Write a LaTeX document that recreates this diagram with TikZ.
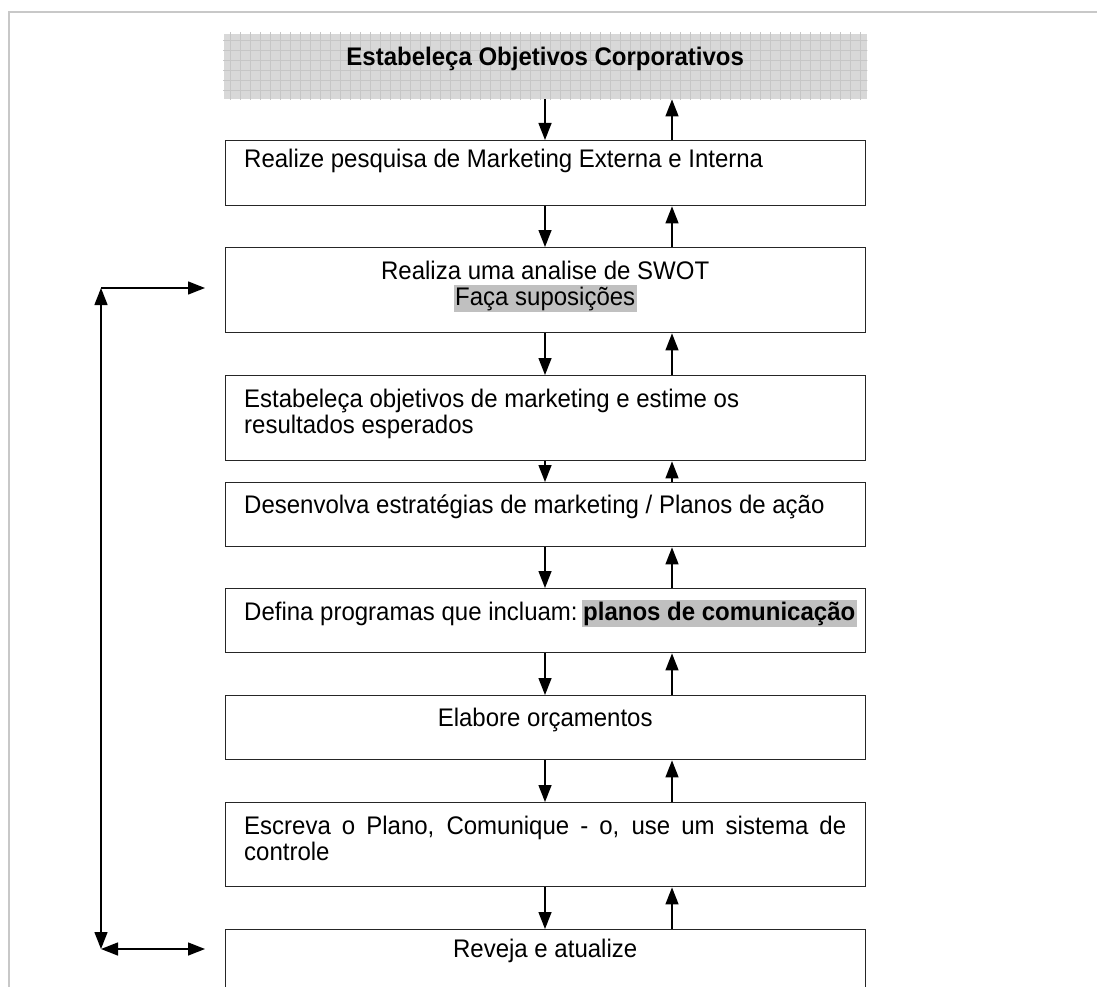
\documentclass[tikz,border=0pt]{standalone}
\usepackage{fontspec}
\usepackage{graphicx}
\setmainfont{Liberation Sans}
\usetikzlibrary{arrows.meta}
\definecolor{framegray}{RGB}{200,200,200}
\definecolor{hlgray}{RGB}{192,192,192}
\definecolor{shadegray}{RGB}{216,216,216}
\definecolor{gridgray}{RGB}{198,198,198}
\setlength{\fboxsep}{1.5pt}
\newcommand{\hl}[1]{\colorbox{hlgray}{#1}}
% text of the boxes is set slightly taller than wide
\newcommand{\tall}[1]{\scalebox{1}[1.06]{#1}}
\begin{document}
\begin{tikzpicture}[x=1pt,y=-1pt,
  stepbox/.style={draw=black!85, line width=1.4pt, minimum width=640pt,
    inner sep=0pt, anchor=north west},
  lbl/.style={inner sep=0pt, anchor=base west,
    font=\fontsize{24}{25}\selectfont},
  flow/.style={line width=1.4pt, -{Triangle[width=13pt,length=17pt]}},
  loop/.style={line width=1.4pt, {Triangle[width=13pt,length=17pt]}-{Triangle[width=13pt,length=17pt]}}
]
\useasboundingbox (0,0) rectangle (1097,987);
\clip (0,0) rectangle (1097,987);

% page frame
\draw[framegray, line width=2pt] (9,990) -- (9,12) -- (1100,12);

% shaded heading
\node[stepbox, draw=none, fill=shadegray, minimum height=65pt, minimum width=643pt] (goal) at (223,33) {};
\begin{scope}
  \clip (goal.north west) rectangle (goal.south east);
  \draw[gridgray, line width=0.8pt, step=10pt] (220,30) grid (870,100);
\end{scope}
\node[lbl, font=\fontsize{24}{25}\selectfont\bfseries] (tgoal) at (244,66)
  {\tall{\parbox[t]{602pt}{\centering Estabeleça Objetivos Corporativos}}};

% process boxes
\node[stepbox, minimum height=65pt] (b1) at (225,140) {};
\node[stepbox, minimum height=85pt] (b2) at (225,247) {};
\node[stepbox, minimum height=85pt] (b3) at (225,375) {};
\node[stepbox, minimum height=64pt] (b4) at (225,482) {};
\node[stepbox, minimum height=64pt] (b5) at (225,588) {};
\node[stepbox, minimum height=64pt] (b6) at (225,695) {};
\node[stepbox, minimum height=84pt] (b7) at (225,802) {};
\node[stepbox, minimum height=90pt] (b8) at (225,929) {};

% box texts
\node[lbl] (t1) at (244,168) {\tall{Realize pesquisa de Marketing Externa e Interna}};
\node[lbl] (t2) at (244,279) {\tall{\parbox[t]{602pt}{\centering Realiza uma analise de SWOT\\\hl{Faça suposições}}}};
\node[lbl] (t3) at (244,407) {\tall{\parbox[t]{602pt}{\raggedright Estabeleça objetivos de marketing e estime os\\resultados esperados}}};
\node[lbl] (t4) at (244,513) {\tall{Desenvolva estratégias de marketing / Planos de ação}};
\node[lbl] (t5) at (244,620) {\tall{Defina programas que incluam:\hspace{4pt}\hl{\textbf{planos de comunicação}}}};
\node[lbl] (t6) at (244,726) {\tall{\parbox[t]{602pt}{\centering Elabore orçamentos}}};
\node[lbl] (t7) at (244,834) {\tall{\parbox[t]{602pt}{Escreva o Plano, Comunique - o, use um sistema de\linebreak controle}}};
\node[lbl] (t8) at (244,957) {\tall{\parbox[t]{602pt}{\centering Reveja e atualize}}};

% columns for the down and up connectors
\coordinate (dn) at (545,0);
\coordinate (up) at (672,0);

\foreach \a/\b in {goal/b1,b1/b2,b2/b3,b3/b4,b4/b5,b5/b6,b6/b7,b7/b8}{
  \draw[flow] (\a.south -| dn) -- (\b.north -| dn);
  \draw[flow] (\b.north -| up) -- (\a.south -| up);
}

% feedback loop on the left
\coordinate (lt) at (101,288);
\coordinate (lb) at (101,949);
\coordinate (rt) at (205,288);
\coordinate (rb) at (205,949);
\draw[loop] (lt) -- (lb);
\draw[flow] (lt) -- (rt);
\draw[loop] (lb) -- (rb);
\end{tikzpicture}
\end{document}
